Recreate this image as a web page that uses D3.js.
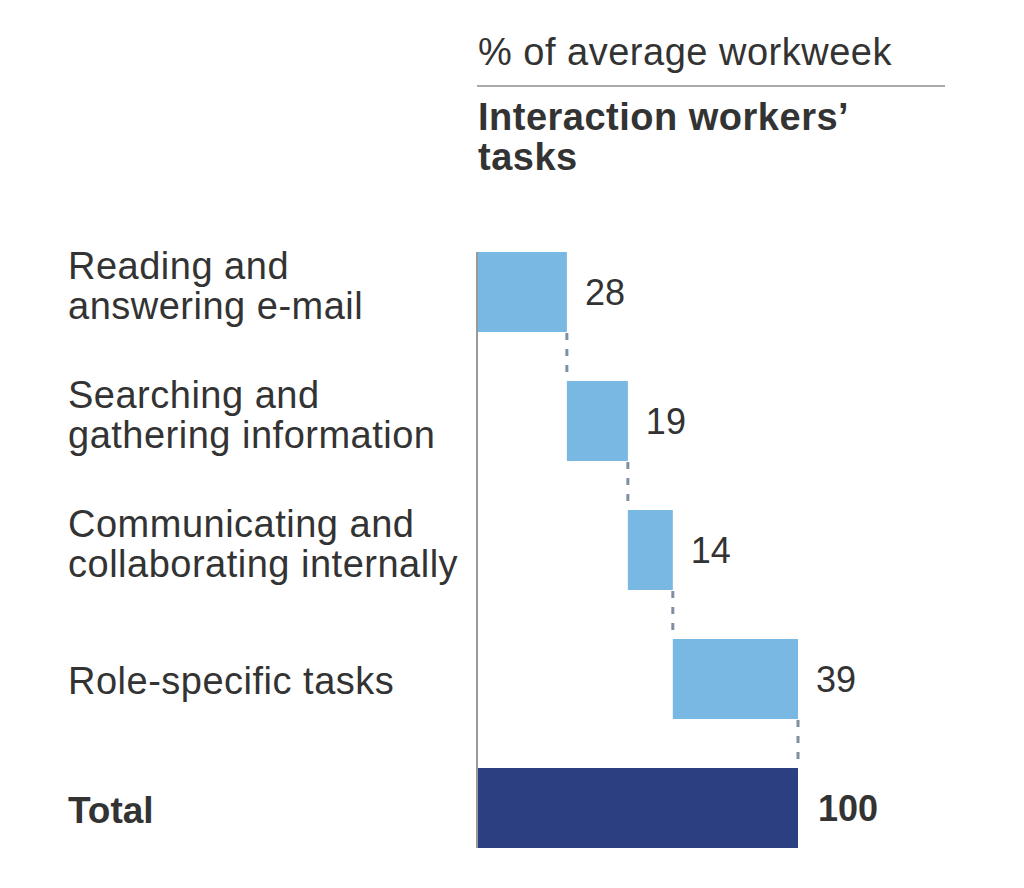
<!DOCTYPE html>
<html>
<head>
<meta charset="utf-8">
<script src="https://cdn.jsdelivr.net/npm/d3@7"></script>
<style>
  html, body { margin: 0; padding: 0; background: #fff; }
  svg text { font-family: "Liberation Sans", Arial, Helvetica, sans-serif; fill: #333; }
</style>
</head>
<body>
<div id="chart"></div>
<script>
// Chart data
const categories = [
  ["Reading and", "answering e-mail"],
  ["Searching and", "gathering information"],
  ["Communicating and", "collaborating internally"],
  ["Role-specific tasks"],
  ["Total"]
];
const values = [28, 19, 14, 39, 100];
const isTotal = [false, false, false, false, true];
const unitLabel = "% of average workweek";
const titleLines = ["Interaction workers\u2019", "tasks"];

const width = 1024;
const height = 888;

const svg = d3.select("#chart").append("svg")
  .attr("width", width)
  .attr("height", height);

// Running start of each step in the waterfall
let run = 0;
const rows = values.map((v, i) => {
  const start = isTotal[i] ? 0 : run;
  const end = isTotal[i] ? v : run + v;
  if (!isTotal[i]) run += v;
  return { i, lines: categories[i], value: v, start, end, total: isTotal[i] };
});

// Scales
const x = d3.scaleLinear()
  .domain([0, 100])
  .range([477, 798]);

const y = d3.scaleBand()
  .domain(rows.map(d => d.i))
  .range([227.5, 872.5])
  .paddingInner(0.38)
  .paddingOuter(0.19);

// Header
svg.append("text")
  .attr("x", 478)
  .attr("y", 65)
  .style("font-size", "38px")
  .style("letter-spacing", "0.5px")
  .text(unitLabel);

svg.append("line")
  .attr("x1", 477).attr("x2", 945)
  .attr("y1", 86).attr("y2", 86)
  .attr("stroke", "#aaa")
  .attr("stroke-width", 2);

svg.append("text")
  .attr("x", 478)
  .attr("y", 130)
  .style("font-size", "38px")
  .style("font-weight", "bold")
  .style("letter-spacing", "0.5px")
  .selectAll("tspan")
  .data(titleLines)
  .enter()
  .append("tspan")
  .attr("x", 478)
  .attr("dy", (d, i) => i === 0 ? 0 : 40)
  .text(d => d);

// Bars
svg.selectAll("rect.bar")
  .data(rows)
  .enter()
  .append("rect")
  .attr("class", "bar")
  .attr("x", d => x(d.start))
  .attr("y", d => y(d.i))
  .attr("width", d => x(d.end) - x(d.start))
  .attr("height", y.bandwidth())
  .attr("fill", d => d.total ? "#2c3f80" : "#78b8e2");

// Dashed connectors between steps
const links = rows.slice(0, -1).map((d, k) => ({ xv: d.end, from: d.i, to: rows[k + 1].i }));
svg.selectAll("line.link")
  .data(links)
  .enter()
  .append("line")
  .attr("class", "link")
  .attr("x1", d => x(d.xv)).attr("x2", d => x(d.xv))
  .attr("y1", d => y(d.from) + y.bandwidth())
  .attr("y2", d => y(d.to))
  .attr("stroke", "#7f90a3")
  .attr("stroke-width", 3)
  .attr("stroke-dasharray", "7,9")
  .attr("stroke-dashoffset", -1);

// Left baseline
svg.append("line")
  .attr("x1", x(0)).attr("x2", x(0))
  .attr("y1", y(0)).attr("y2", y(4) + y.bandwidth())
  .attr("stroke", "#999")
  .attr("stroke-width", 2);

// Value labels
svg.selectAll("text.val")
  .data(rows)
  .enter()
  .append("text")
  .attr("class", "val")
  .attr("x", d => x(d.end) + (d.total ? 20 : 18))
  .attr("y", d => y(d.i) + y.bandwidth() / 2 + 13)
  .style("font-size", "36px")
  .style("font-weight", d => d.total ? "bold" : "normal")
  .text(d => d.value);

// Category labels
const lab = svg.selectAll("text.cat")
  .data(rows)
  .enter()
  .append("text")
  .attr("class", "cat")
  .attr("x", 68)
  .attr("y", d => y(d.i) + y.bandwidth() / 2 + (d.lines.length > 1 ? -13 : 15))
  .style("font-size", d => d.total ? "37px" : "38px")
  .style("letter-spacing", d => d.total ? "0px" : "0.5px")
  .style("font-weight", d => d.total ? "bold" : "normal");

lab.selectAll("tspan")
  .data(d => d.lines)
  .enter()
  .append("tspan")
  .attr("x", 68)
  .attr("dy", (d, i) => i === 0 ? 0 : 40)
  .text(d => d);
</script>
</body>
</html>
